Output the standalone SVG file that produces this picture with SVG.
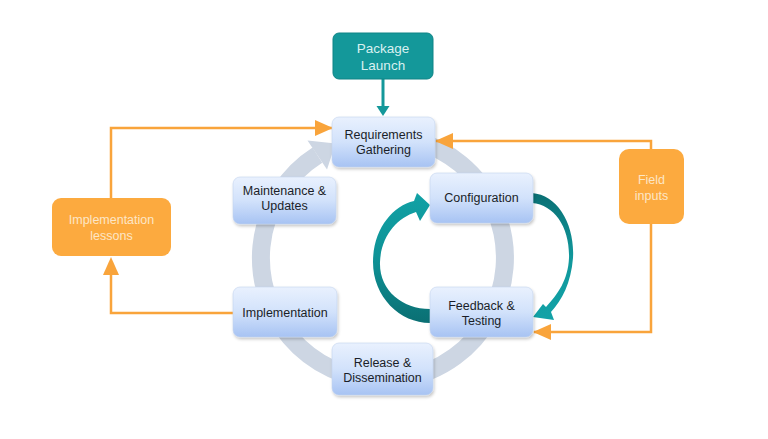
<svg xmlns="http://www.w3.org/2000/svg" width="768" height="439" viewBox="0 0 768 439">
<defs>
<linearGradient id="nodeGrad" x1="0" y1="0" x2="0" y2="1">
<stop offset="0" stop-color="#e9f1fe"/>
<stop offset="0.5" stop-color="#d2e2fb"/>
<stop offset="1" stop-color="#a7c3f3"/>
</linearGradient>
<linearGradient id="leftArrowGrad" x1="0" y1="0" x2="0" y2="1">
<stop offset="0" stop-color="#11a1a5"/>
<stop offset="0.5" stop-color="#0e9296"/>
<stop offset="1" stop-color="#0a6f73"/>
</linearGradient>
<linearGradient id="rightArrowGrad" x1="0" y1="0" x2="0" y2="1">
<stop offset="0" stop-color="#0a6f73"/>
<stop offset="0.5" stop-color="#10979b"/>
<stop offset="1" stop-color="#12a2a7"/>
</linearGradient>
<filter id="shadow" x="-10%" y="-10%" width="130%" height="140%">
<feDropShadow dx="1" dy="2" stdDeviation="1.5" flood-color="#000" flood-opacity="0.22"/>
</filter>
<marker id="orangeHead" viewBox="0 0 18 16" refX="17" refY="8" markerWidth="18" markerHeight="16" markerUnits="userSpaceOnUse" orient="auto">
<path d="M0,0 L18,8 L0,16 Z" fill="#f9a43b"/>
</marker>
</defs>
<style>
.node rect { fill: url(#nodeGrad); stroke: #c3d4ef; stroke-width: 0.6; filter: url(#shadow); }
.node text { font-family: "Liberation Sans", Arial, sans-serif; font-size: 12.5px; fill: #1a1e28; text-anchor: middle; }
.orange rect { fill: #fcaa3f; }
.orange text { font-family: "Liberation Sans", Arial, sans-serif; font-size: 12.5px; fill: #fde6c6; text-anchor: middle; }
.oline { fill: none; stroke: #f9a43b; stroke-width: 2.5; }
</style>
<rect width="768" height="439" fill="#ffffff"/>

<!-- ring -->
<g id="cycle-ring">
<path d="M414.6,140.2 A122,122 0 1 1 317.4,155.1" fill="none" stroke="#cdd6e3" stroke-width="18"/>
<polygon points="327,169.5 307.5,140.5 335.5,143.5" fill="#cdd6e3"/>
</g>

<!-- connectors -->
<g id="connectors">
<line x1="383" y1="79" x2="383" y2="108" stroke="#14989a" stroke-width="3"/>
<polygon points="376.5,106 389.5,106 383,116" fill="#14989a"/>
<polyline class="oline" points="111,199 111,128 332,128" marker-end="url(#orangeHead)"/>
<polyline class="oline" points="233,313 111,313 111,272"/>
<polygon points="103,275 119,275 111,257" fill="#f9a43b"/>
<polyline class="oline" points="651,149 651,141 436,141" marker-end="url(#orangeHead)"/>
<polyline class="oline" points="651,224 651,332 534,332" marker-end="url(#orangeHead)"/>
<path id="loop-left" d="M430,309 C402,309 379,290 380,262 C381,236 397,218 416,212 L420,221 L430,205 L417,193 L414,201 C392,206 373,230 373,262 C373,297 400,323 430,323 Z" fill="url(#leftArrowGrad)"/>
<path id="loop-right" d="M532,193 C558,195 575,225 573,258 C571,283 562,300 551,312 L554,320 L533,317 L543,304 L546,307 C558,294 568,280 569,258 C570,228 555,205 532,203 Z" fill="url(#rightArrowGrad)"/>
</g>

<g id="package-launch">
<rect x="333" y="33" width="100" height="46" rx="6" fill="#14989a" stroke="#0f8486" stroke-width="1"/>
<text x="383" y="53" font-family="'Liberation Sans', Arial, sans-serif" font-size="13.5" fill="#d9f1f1" text-anchor="middle">Package</text>
<text x="383" y="70" font-family="'Liberation Sans', Arial, sans-serif" font-size="13.5" fill="#d9f1f1" text-anchor="middle">Launch</text>
</g>

<g id="requirements" class="node">
<rect x="332" y="117" width="103" height="50" rx="7"/>
<text x="383.5" y="139">Requirements</text>
<text x="383.5" y="154">Gathering</text>
</g>

<g id="maintenance" class="node">
<rect x="233" y="177" width="103" height="47" rx="7"/>
<text x="284.5" y="195">Maintenance &amp;</text>
<text x="284.5" y="210">Updates</text>
</g>

<g id="configuration" class="node">
<rect x="430" y="173" width="103" height="50" rx="7"/>
<text x="481.5" y="202">Configuration</text>
</g>

<g id="implementation" class="node">
<rect x="233" y="287" width="104" height="50" rx="7"/>
<text x="285" y="317">Implementation</text>
</g>

<g id="feedback" class="node">
<rect x="430" y="287" width="103" height="50" rx="7"/>
<text x="481.5" y="310">Feedback &amp;</text>
<text x="481.5" y="325">Testing</text>
</g>

<g id="release" class="node">
<rect x="332" y="343" width="101" height="52" rx="7"/>
<text x="382.5" y="367">Release &amp;</text>
<text x="382.5" y="382">Dissemination</text>
</g>

<g id="implementation-lessons" class="orange">
<rect x="52" y="198" width="119" height="58" rx="9"/>
<text x="111.5" y="224">Implementation</text>
<text x="111.5" y="240">lessons</text>
</g>

<g id="field-inputs" class="orange">
<rect x="619" y="149" width="65" height="75" rx="10"/>
<text x="651.5" y="184">Field</text>
<text x="651.5" y="200">inputs</text>
</g>
</svg>
